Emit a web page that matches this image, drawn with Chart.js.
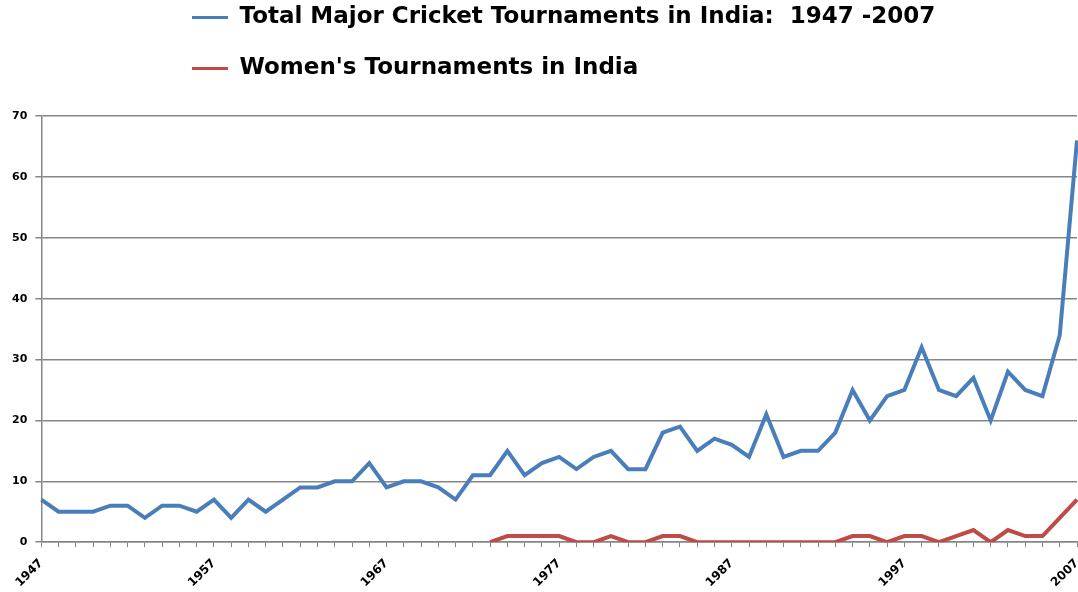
<!DOCTYPE html>
<html>
<head>
<meta charset="utf-8">
<script src="https://cdn.jsdelivr.net/npm/chart.js@4.4.0/dist/chart.umd.min.js"></script>
<style>
  body { margin: 0; background: #fff; }
  #wrap { width: 1078px; height: 592px; }
</style>
</head>
<body>
<div id="wrap"><canvas id="cricketChart" width="1078" height="592"></canvas></div>
<script>
// years 1947 - 2007
const years = [];
for (let y = 1947; y <= 2007; y++) years.push(String(y));

const totalTournaments = [
  7, 5, 5, 5, 6, 6, 4, 6, 6, 5,        // 1947-1956
  7, 4, 7, 5, 7, 9, 9, 10, 10, 13,     // 1957-1966
  9, 10, 10, 9, 7, 11, 11, 15, 11, 13, // 1967-1976
  14, 12, 14, 15, 12, 12, 18, 19, 15, 17, // 1977-1986
  16, 14, 21, 14, 15, 15, 18, 25, 20, 24, // 1987-1996
  25, 32, 25, 24, 27, 20, 28, 25, 24, 34, // 1997-2006
  66                                   // 2007
];

const womensTournaments = [
  null, null, null, null, null, null, null, null, null, null, // 1947-1956
  null, null, null, null, null, null, null, null, null, null, // 1957-1966
  null, null, null, null, null, null, 0, 1, 1, 1,             // 1967-1976
  1, 0, 0, 1, 0, 0, 1, 1, 0, 0,                               // 1977-1986
  0, 0, 0, 0, 0, 0, 0, 1, 1, 0,                               // 1987-1996
  1, 1, 0, 1, 2, 0, 2, 1, 1, 4,                               // 1997-2006
  7                                                           // 2007
];

const seriesNames = [
  'Total Major Cricket Tournaments in India:  1947 -2007',
  "Women's Tournaments in India"
];
const yTicks = [0, 10, 20, 30, 40, 50, 60, 70];

const tickFont = { family: 'DejaVu Sans, sans-serif', weight: 'bold', size: 11 };

// the original legend rows are left aligned, starting a bit in from the edge
const legendShift = {
  id: 'legendShift',
  afterLayout(chart) {
    chart.legend.left = 164;
  }
};

new Chart('cricketChart', {
  type: 'line',
  data: {
    labels: years,
    datasets: [
      {
        label: seriesNames[0],
        data: totalTournaments,
        borderColor: '#4a7ebb',
        backgroundColor: '#4a7ebb',
        borderWidth: 4,
        pointRadius: 0,
        tension: 0
      },
      {
        label: seriesNames[1],
        data: womensTournaments,
        borderColor: '#be4b48',
        backgroundColor: '#be4b48',
        borderWidth: 4,
        pointRadius: 0,
        tension: 0
      }
    ]
  },
  options: {
    responsive: false,
    animation: false,
    layout: { padding: { top: -22, left: 4, right: 1, bottom: -7 } },
    plugins: {
      tooltip: { enabled: false },
      // empty title used only as a gap between legend and plot
      title: {
        display: true,
        text: '',
        position: 'top',
        weight: 500,
        font: { size: 10, lineHeight: 1 },
        padding: { top: 0, bottom: 16 }
      },
      legend: {
        position: 'top',
        align: 'start',
        labels: {
          color: '#000',
          font: { family: 'DejaVu Sans, sans-serif', weight: 'bold', size: 23 },
          boxWidth: 36,
          boxHeight: 3,
          padding: 28,
          generateLabels(chart) {
            const items = Chart.defaults.plugins.legend.labels.generateLabels(chart);
            items.forEach(it => { it.lineWidth = 0; });
            return items;
          }
        }
      }
    },
    scales: {
      x: {
        offset: false,
        // let the line run right up to the edge like the original
        afterFit(scale) {
          scale.paddingRight = 0;
        },
        grid: {
          drawOnChartArea: false,
          drawTicks: true,
          tickLength: 5,
          color: '#868686'
        },
        border: { color: '#868686', width: 1.5 },
        ticks: {
          autoSkip: false,
          maxRotation: 45,
          minRotation: 45,
          padding: 9,
          color: '#000',
          font: { family: 'DejaVu Sans, sans-serif', weight: 'bold', size: 12 },
          callback(value, index) {
            return index % 10 === 0 ? years[index] : '';
          }
        }
      },
      y: {
        min: yTicks[0],
        max: yTicks[yTicks.length - 1],
        grid: { color: '#868686', lineWidth: 1.5, tickLength: 6 },
        border: { color: '#868686', width: 1.5 },
        ticks: {
          stepSize: 10,
          padding: 8,
          color: '#000',
          font: tickFont
        }
      }
    }
  },
  plugins: [legendShift]
});
</script>
</body>
</html>
